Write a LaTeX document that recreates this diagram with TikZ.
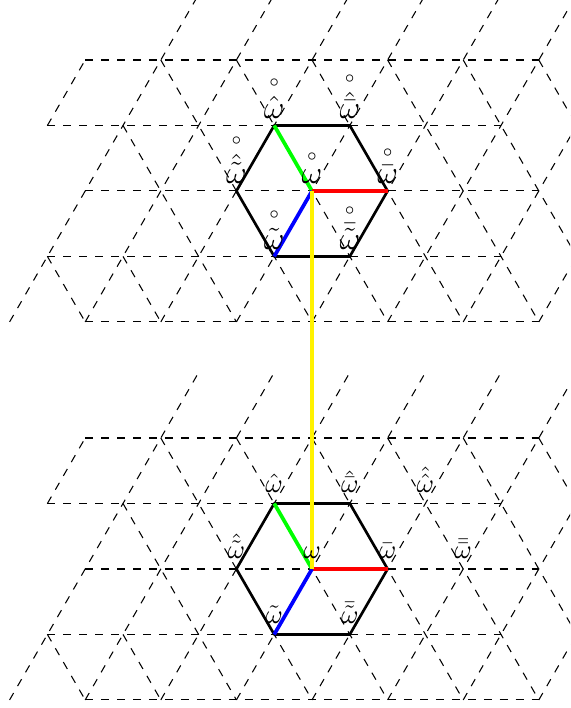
\documentclass[tikz,border=0pt]{standalone}
\usepackage{amsmath}
\newcommand\rng[1]{\overset{\raisebox{1.2pt}{$\scriptscriptstyle\circ$}}{#1}}
\begin{document}
\begin{tikzpicture}[
  lat/.style={dashed, line width=0.4pt},
  hexa/.style={line width=1pt, line join=round},
  bond/.style={line width=1.4pt},
  lbl/.style={above, inner sep=2.5pt, font=\large},
  lblb/.style={above, inner sep=3.8pt},
]
\useasboundingbox (-4.127,-6.839) rectangle (3.413,2.526);
\clip (-4.127,-6.839) rectangle (3.413,2.526);
\foreach \oy/\tg in {0/t,-5/b} {
 \begin{scope}[shift={(0,\oy)}, x={(1cm,0cm)}, y={(0.5cm,0.8660254cm)}]
   \foreach \j/\a/\b in {2/-4/2, 1/-4/2, 0/-3/3, -1/-3/3, -2/-2/4}
     \draw[lat] (\a,\j) -- (\b,\j);
   \foreach \i in {-3,...,4}
     \draw[lat] (\i,-2) -- (\i,3);
   \draw[lat] (-4,1) -- (-4,2);
   \foreach \s/\jt in {-1/2,0/2,1/2,2/2,3/2,4/2,-2/1,-3/-1,-4/-1}
     \draw[lat] ({\s-\jt},\jt) -- ({\s+2},-2);
   \coordinate (w\tg) at (0,0);
   \coordinate (b\tg) at (1,0);
   \coordinate (h\tg) at (-1,1);
   \coordinate (t\tg) at (0,-1);
   \coordinate (hb\tg) at (0,1);
   \coordinate (ht\tg) at (-1,0);
   \coordinate (bt\tg) at (1,-1);
   \coordinate (hh\tg) at (1,1);
   \coordinate (bb\tg) at (2,0);
   \draw[hexa] (b\tg) -- (hb\tg) -- (h\tg) -- (ht\tg) -- (t\tg) -- (bt\tg) -- cycle;
   \draw[bond, green] (h\tg) -- (w\tg);
   \draw[bond, red] (w\tg) -- (b\tg);
   \draw[bond, blue] (w\tg) -- (t\tg);
 \end{scope}
}
\draw[bond, yellow] (wt) -- (wb);
% top labels
\node[lbl] (Lw) at (wt) {$\rng{\omega}$};
\node[lbl] (Lb) at (bt) {$\rng{\bar{\omega}}$};
\node[lbl] (Lh) at (ht) {$\rng{\hat{\omega}}$};
\node[lbl] (Lt) at (tt) {$\rng{\tilde{\omega}}$};
\node[lbl] (Lhb) at (hbt) {$\rng{\hat{\bar{\omega}}}$};
\node[lbl] (Lht) at (htt) {$\rng{\hat{\tilde{\omega}}}$};
\node[lbl] (Lbt) at (btt) {$\rng{\bar{\tilde{\omega}}}$};
% bottom labels
\node[lblb] (Mw) at (wb) {$\omega$};
\node[lblb] (Mb) at (bb) {$\bar{\omega}$};
\node[lblb] (Mh) at (hb) {$\hat{\omega}$};
\node[lblb] (Mt) at (tb) {$\tilde{\omega}$};
\node[lblb] (Mhb) at (hbb) {$\hat{\bar{\omega}}$};
\node[lblb] (Mht) at (htb) {$\hat{\tilde{\omega}}$};
\node[lblb] (Mbt) at (btb) {$\bar{\tilde{\omega}}$};
\node[lblb] (Mhh) at (hhb) {$\hat{\hat{\omega}}$};
\node[lblb] (Mbb) at (bbb) {$\bar{\bar{\omega}}$};
\end{tikzpicture}
\end{document}
